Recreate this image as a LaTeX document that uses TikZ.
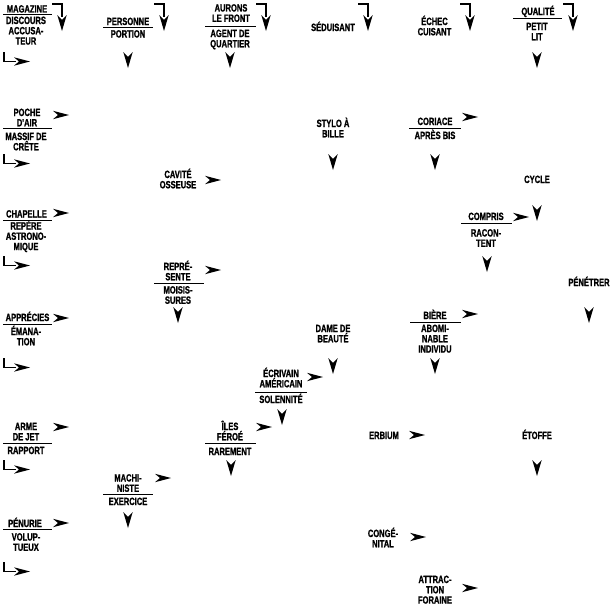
\documentclass[tikz,border=0pt]{standalone}
\usepackage{fontspec}
\newfontfamily\cluefamily[FakeStretch=0.72,FakeBold=1.2]{Liberation Sans Bold}
\newcommand\cluefont{\cluefamily\fontsize{10.5}{10.3}\selectfont}
\begin{document}
\begin{tikzpicture}[x=1pt,y=-1pt,
 clue/.style={font=\cluefont, align=center, inner sep=0pt, anchor=base},
 divline/.style={line width=0.8pt},
 bendline/.style={line width=1.2pt},
 rarr/.pic={\fill (0,-4.2) -- (16,0) -- (0,4.2) -- (5,0) -- cycle;},
 darr/.pic={\fill (-4.7,0) -- (0,16) -- (4.7,0) -- (0,5) -- cycle;}]
\fill[white] (0,0) rectangle (613,613);
\useasboundingbox (0,0) rectangle (613,613);

% ---------- row 0 ----------
\node[clue] (magazine) at (27,12.5) {MAGAZINE};
\draw[divline] (3,14.5) -- (52,14.5);
\node[clue] (discours) at (26,44.6) {DISCOURS\\ACCUSA-\\TEUR};
\draw[bendline] (52,4) -| (62,17); \pic at (62,15) {darr};
\draw[bendline] (4,52) |- (16,61.5); \pic at (14,61.5) {rarr};

\node[clue] (personne) at (128,25) {PERSONNE};
\draw[divline] (103,27.5) -- (153,27.5);
\node[clue] (portion) at (128,37.5) {PORTION};
\draw[bendline] (154,4) -| (164,17); \pic at (164,15) {darr};
\pic at (128,52) {darr};

\node[clue] (aurons) at (231,21.8) {AURONS\\LE FRONT};
\draw[divline] (205,26) -- (256,26);
\node[clue] (agent) at (230,47.3) {AGENT DE\\QUARTIER};
\draw[bendline] (256,4) -| (266,17); \pic at (266,15) {darr};
\pic at (230,52) {darr};

\node[clue] (seduisant) at (333,31) {SÉDUISANT};
\draw[bendline] (358,4) -| (368,17); \pic at (368,15) {darr};

\node[clue] (echec) at (434.5,35.3) {ÉCHEC\\CUISANT};
\draw[bendline] (460,4) -| (470,17); \pic at (470,15) {darr};

\node[clue] (qualite) at (538,15) {QUALITÉ};
\draw[divline] (513,18) -- (562,18);
\node[clue] (petitlit) at (537,40.3) {PETIT\\LIT};
\draw[bendline] (563,4) -| (573,17); \pic at (573,15) {darr};
\pic at (537,52) {darr};

% ---------- rows 2-3 ----------
\node[clue] (poche) at (27,126.3) {POCHE\\D'AIR};
\draw[divline] (3,128.5) -- (52,128.5);
\node[clue] (massif) at (26,150.3) {MASSIF DE\\CRÊTE};
\pic at (53,115) {rarr};
\draw[bendline] (4,154) |- (16,163.5); \pic at (14,163.5) {rarr};

\node[clue] (stylo) at (333,137.3) {STYLO À\\BILLE};
\pic at (333,154) {darr};

\node[clue] (coriace) at (435,125) {CORIACE};
\draw[divline] (409,128) -- (461,128);
\node[clue] (apres) at (435,139) {APRÈS BIS};
\pic at (462,117) {rarr};
\pic at (435,154) {darr};

\node[clue] (cavite) at (178,188.3) {CAVITÉ\\OSSEUSE};
\pic at (205,180) {rarr};

\node[clue] (cycle) at (537,183) {CYCLE};
\pic at (537,205) {darr};

% ---------- rows 4-5 ----------
\node[clue] (chapelle) at (26.5,217.5) {CHAPELLE};
\draw[divline] (3,220.5) -- (52,220.5);
\node[clue] (repere) at (26,250.1) {REPÈRE\\ASTRONO-\\MIQUE};
\pic at (53,213) {rarr};
\draw[bendline] (4,256) |- (16,265.5); \pic at (14,265.5) {rarr};

\node[clue] (compris) at (486,220) {COMPRIS};
\draw[divline] (461,223) -- (512,223);
\node[clue] (racontent) at (486,246.8) {RACON-\\TENT};
\pic at (513,217) {rarr};
\pic at (487,256) {darr};

\node[clue] (represente) at (178,280.3) {REPRÉ-\\SENTE};
\draw[divline] (154,283.5) -- (204,283.5);
\node[clue] (moisissures) at (178,303.8) {MOISIS-\\SURES};
\pic at (205,270) {rarr};
\pic at (178,307) {darr};

\node[clue] (penetrer) at (589,286) {PÉNÉTRER};
\pic at (589,307) {darr};

% ---------- rows 6-7 ----------
\node[clue] (apprecies) at (27.5,321) {APPRÉCIES};
\draw[divline] (3,324) -- (52,324);
\node[clue] (emanation) at (26,345.3) {ÉMANA-\\TION};
\pic at (53,318) {rarr};
\draw[bendline] (4,358) |- (16,367.5); \pic at (14,367.5) {rarr};

\node[clue] (dame) at (333,342.3) {DAME DE\\BEAUTÉ};
\pic at (333,358) {darr};

\node[clue] (biere) at (435,319) {BIÈRE};
\draw[divline] (410,322) -- (461,322);
\node[clue] (abominable) at (435,352.6) {ABOMI-\\NABLE\\INDIVIDU};
\pic at (462,314) {rarr};
\pic at (435,358) {darr};

\node[clue] (ecrivain) at (281,387.3) {ÉCRIVAIN\\AMÉRICAIN};
\draw[divline] (255,392) -- (307,392);
\node[clue] (solennite) at (281,403) {SOLENNITÉ};
\pic at (307,377) {rarr};
\pic at (282,409) {darr};

% ---------- rows 8-9 ----------
\node[clue] (arme) at (26,440.3) {ARME\\DE JET};
\draw[divline] (3,443.5) -- (52,443.5);
\node[clue] (rapport) at (26,454) {RAPPORT};
\pic at (53,427) {rarr};
\draw[bendline] (4,460) |- (16,469.5); \pic at (14,469.5) {rarr};

\node[clue] (iles) at (230,440.3) {ÎLES\\FÉROÉ};
\draw[divline] (205,443.5) -- (256,443.5);
\node[clue] (rarement) at (230,455) {RAREMENT};
\pic at (256,427) {rarr};
\pic at (231,460) {darr};

\node[clue] (erbium) at (384,439) {ERBIUM};
\pic at (409,435) {rarr};

\node[clue] (etoffe) at (537,439) {ÉTOFFE};
\pic at (537,460) {darr};

\node[clue] (machiniste) at (128,491.8) {MACHI-\\NISTE};
\draw[divline] (103,494.5) -- (153,494.5);
\node[clue] (exercice) at (128,505) {EXERCICE};
\pic at (155,478) {rarr};
\pic at (128,512) {darr};

% ---------- rows 10-11 ----------
\node[clue] (penurie) at (25,527) {PÉNURIE};
\draw[divline] (3,529.5) -- (52,529.5);
\node[clue] (voluptueux) at (26,550.8) {VOLUP-\\TUEUX};
\pic at (53,523) {rarr};
\draw[bendline] (4,562) |- (16,571.5); \pic at (14,571.5) {rarr};

\node[clue] (congenital) at (383,547.3) {CONGÉ-\\NITAL};
\pic at (410,537) {rarr};

\node[clue] (attraction) at (435,603.6) {ATTRAC-\\TION\\FORAINE};
\pic at (462,588) {rarr};
\end{tikzpicture}
\end{document}
